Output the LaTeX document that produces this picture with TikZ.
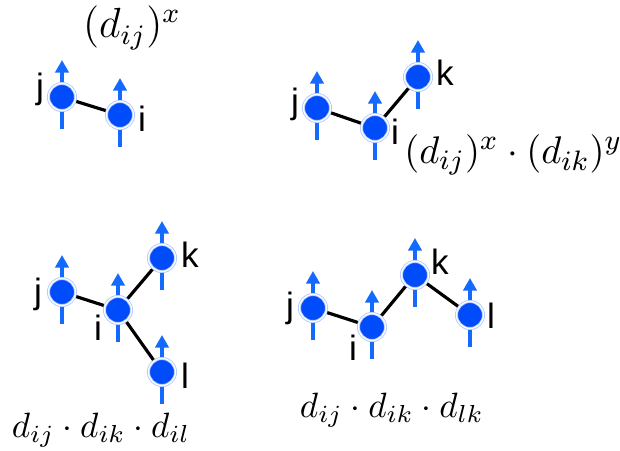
\documentclass[tikz,border=0pt]{standalone}
\usepackage{fontspec}
\newfontfamily\lblfont{Liberation Sans}
\usetikzlibrary{arrows.meta,positioning,calc,backgrounds}
\definecolor{spinblue}{RGB}{0,75,250}
\definecolor{arrowblue}{RGB}{20,105,255}

\begin{document}
\begin{tikzpicture}[x=0.01cm, y=-0.01cm,
    spin/.style={circle, fill=spinblue, draw=spinblue!30, double=white, double distance=0.35pt, line width=0.25pt, minimum size=0.27cm, inner sep=0pt},
    lbl/.style={font=\lblfont, inner sep=0pt},
    bond/.style={black, line width=0.9pt},
    spinarrow/.style={arrowblue, line width=1.15pt, -{Triangle[length=3.6pt, width=3.8pt]}}]
    \useasboundingbox (0,0) rectangle (620,450);
    % Pair: j -- i
    \node[spin] (j1) at (62,97) {};
    \node[spin] (i1) at (120,115) {};
    \node[lbl] (lj1) at (40,89) {j};
    \node[lbl] (li1) at (142,119) {i};
    \node[font=\large] (f1) at (132,28) {$(d_{ij})^x$};
    % Chain: j -- i -- k
    \node[spin] (j2) at (317,108) {};
    \node[spin] (i2) at (375,128) {};
    \node[spin] (k2) at (418,77) {};
    \node[lbl] (lj2) at (295,104) {j};
    \node[lbl] (li2) at (395,132) {i};
    \node[lbl] (lk2) at (445,73) {k};
    \node[font=\fontsize{11}{13}\selectfont, anchor=west] (f2) at (392,155) {$(d_{ij})^x \cdot (d_{ik})^y$};
    % Star: i bonded to j, k and l
    \node[spin] (j3) at (62,292) {};
    \node[spin] (i3) at (118,310) {};
    \node[spin] (k3) at (162,258) {};
    \node[spin] (l3) at (162,372) {};
    \node[lbl] (lj3) at (38,294) {j};
    \node[lbl] (li3) at (98,328) {i};
    \node[lbl] (lk3) at (190,255) {k};
    \node[lbl] (ll3) at (185,376) {l};
    \node (f3) at (101,430) {$d_{ij} \cdot d_{ik} \cdot d_{il}$};
    % Chain: j -- i -- k -- l
    \node[spin] (j4) at (313,308) {};
    \node[spin] (i4) at (372,327) {};
    \node[spin] (k4) at (415,275) {};
    \node[spin] (l4) at (470,315) {};
    \node[lbl] (lj4) at (290,308) {j};
    \node[lbl] (li4) at (353,348) {i};
    \node[lbl] (lk4) at (440,262) {k};
    \node[lbl] (ll4) at (491,316) {l};
    \node (f4) at (392,410) {$d_{ij} \cdot d_{ik} \cdot d_{lk}$};
    % Bonds and spin arrows go under the spheres
    \begin{pgfonlayer}{background}
      \draw[bond] (j1) -- (i1);
      \draw[bond] (j2) -- (i2) -- (k2);
      \draw[bond] (j3) -- (i3) -- (k3);
      \draw[bond] (i3) -- (l3);
      \draw[bond] (j4) -- (i4) -- (k4) -- (l4);
      \foreach \s in {j1,i1,j2,i2,k2,j3,i3,k3,l3,j4,i4,k4,l4}
        \draw[spinarrow] ($(\s)+(0,32)$) -- ($(\s)+(0,-37)$);
    \end{pgfonlayer}
\end{tikzpicture}
\end{document}
